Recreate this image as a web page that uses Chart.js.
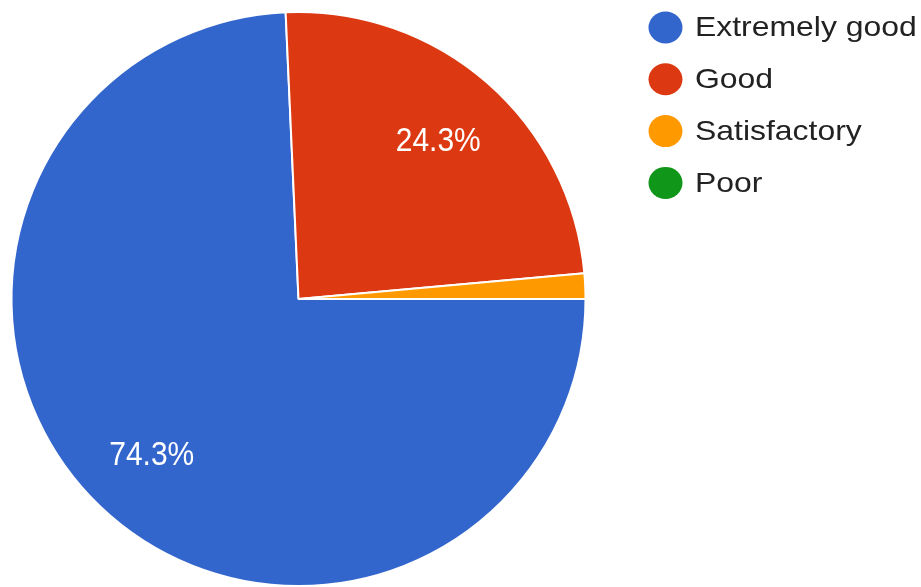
<!DOCTYPE html>
<html>
<head>
<meta charset="utf-8">
<script src="https://cdn.jsdelivr.net/npm/chart.js@4"></script>
<style>
html,body{margin:0;padding:0;background:#fff;}
#wrap{width:921px;height:587px;position:relative;}
</style>
</head>
<body>
<div id="wrap"><canvas id="c" width="921" height="587"></canvas></div>
<script>
const categories = ["Extremely good", "Good", "Satisfactory", "Poor"];
const responses = [52, 17, 1, 0];
const sliceColors = ["#3366cc", "#dc3912", "#ff9900", "#109618"];

const total = responses.reduce((a, b) => a + b, 0);

const sliceLabels = {
  id: 'sliceLabels',
  afterDatasetsDraw(chart) {
    const ctx = chart.ctx;
    const meta = chart.getDatasetMeta(0);
    meta.data.forEach((arc, i) => {
      const v = responses[i];
      const frac = v / total;
      if (frac < 0.05) return;
      const p = arc.getProps(['x', 'y', 'startAngle', 'endAngle', 'outerRadius'], true);
      const mid = (p.startAngle + p.endAngle) / 2;
      const r = p.outerRadius * 0.74;
      ctx.save();
      ctx.translate(p.x + Math.cos(mid) * r, p.y + Math.sin(mid) * r + 3);
      ctx.scale(1, 1.1);
      ctx.fillStyle = '#ffffff';
      ctx.font = '30px "Liberation Sans", Arial, sans-serif';
      ctx.textAlign = 'center';
      ctx.textBaseline = 'middle';
      ctx.fillText((frac * 100).toFixed(1) + '%', 0, 0);
      ctx.restore();
    });
  }
};

const sideLegend = {
  id: 'sideLegend',
  afterDraw(chart) {
    const ctx = chart.ctx;
    categories.forEach((name, i) => {
      const cy = 27.5 + i * 51.8;
      ctx.save();
      ctx.beginPath();
      ctx.fillStyle = sliceColors[i];
      ctx.ellipse(665.5, cy, 17, 16, 0, 0, Math.PI * 2);
      ctx.fill();
      ctx.translate(695, cy);
      ctx.scale(1.12, 1);
      ctx.font = '28.5px "Liberation Sans", Arial, sans-serif';
      ctx.textAlign = 'left';
      ctx.textBaseline = 'middle';
      ctx.fillStyle = '#222222';
      ctx.fillText(name, 0, 1);
      ctx.restore();
    });
  }
};

new Chart(document.getElementById('c'), {
  type: 'pie',
  data: {
    labels: categories,
    datasets: [{
      data: responses,
      backgroundColor: sliceColors,
      borderColor: '#ffffff',
      borderWidth: 2
    }]
  },
  options: {
    responsive: false,
    animation: false,
    rotation: 90,
    layout: { padding: { left: 10, right: 334, top: 11, bottom: 0 } },
    plugins: {
      legend: { display: false },
      tooltip: { enabled: false }
    }
  },
  plugins: [sliceLabels, sideLegend]
});
</script>
</body>
</html>
